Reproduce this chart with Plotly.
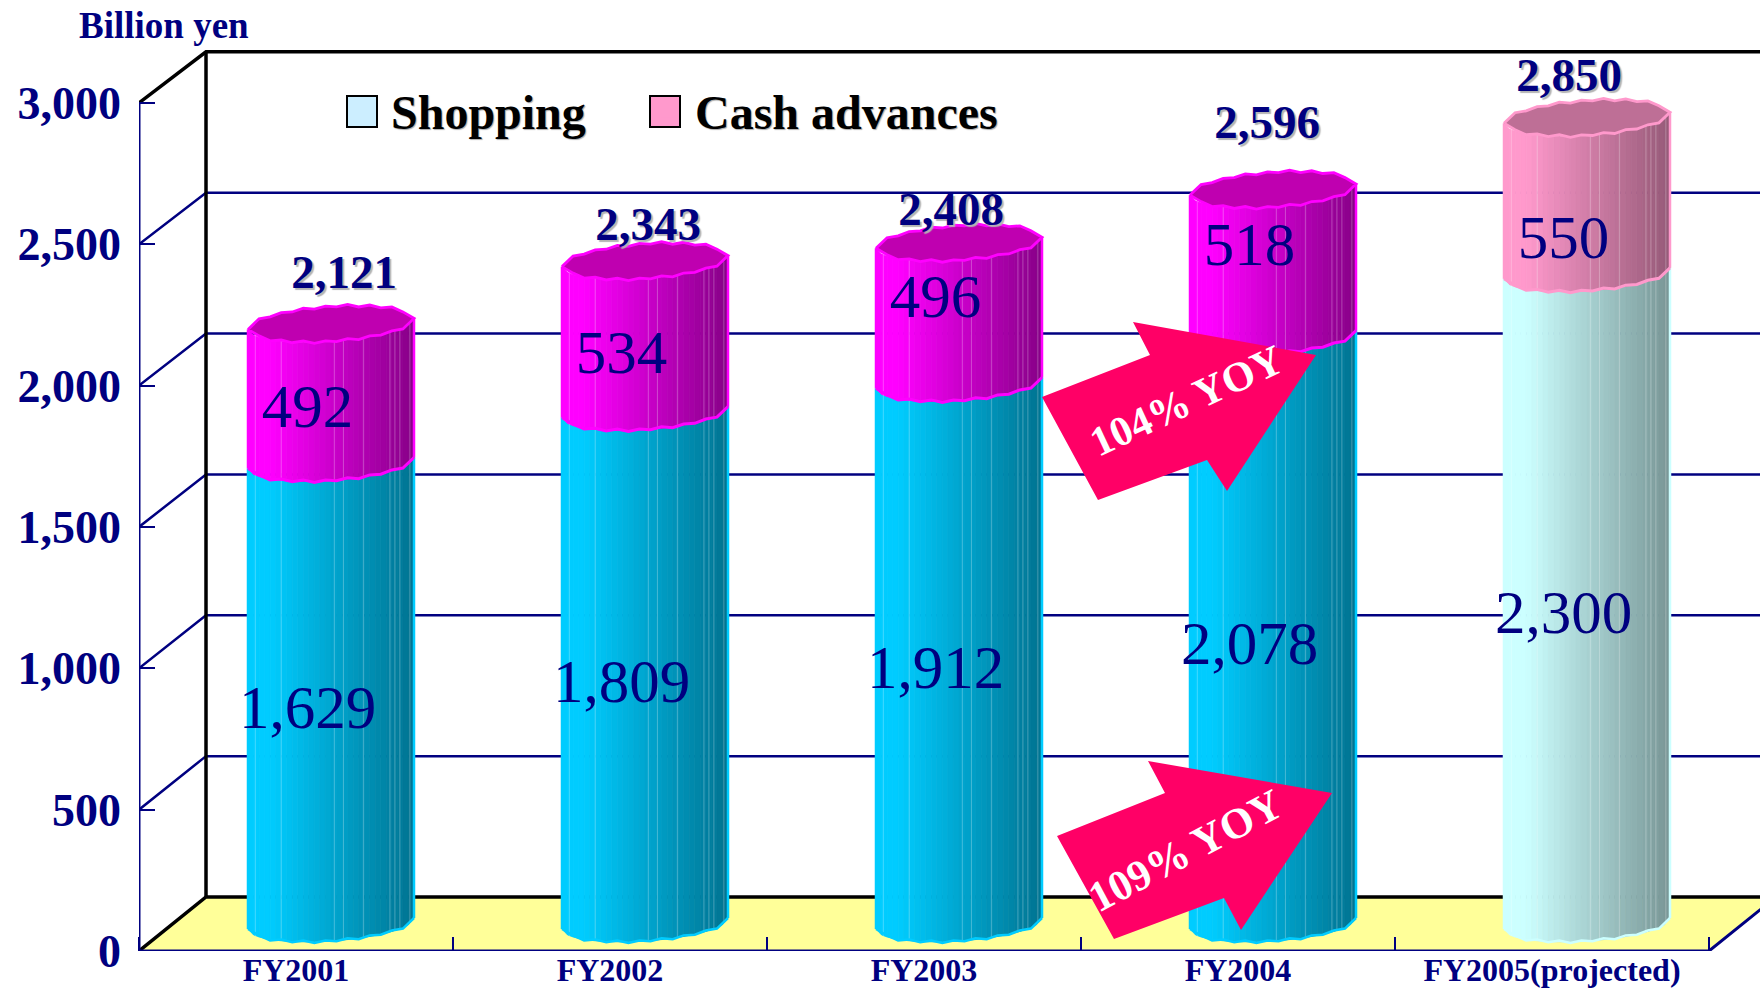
import plotly.graph_objects as go

# ---------- data ----------
categories = ["FY2001", "FY2002", "FY2003", "FY2004", "FY2005(projected)"]
shopping = [1629, 1809, 1912, 2078, 2300]
cash_advances = [492, 534, 496, 518, 550]
totals = [2121, 2343, 2408, 2596, 2850]
y_ticks = [0, 500, 1000, 1500, 2000, 2500, 3000]
y_tick_labels = ["0", "500", "1,000", "1,500", "2,000", "2,500", "3,000"]

# ---------- styling / layout constants ----------
W, H = 1760, 990
ML, MB = 139, 39
PX_X = 314.0          # px per category
PX_Y = 0.2827         # px per yen-unit
NAVY = "#000080"
SERIF = "Liberation Serif"
YMAX = (H - MB) / PX_Y
XMAX = (W - ML) / PX_X
DEPTH_X = 67 / PX_X
DEPTH_Y = 54 / PX_Y
BACK_SCALE = 0.9965
BAR_CX = (331 - ML) / PX_X
BAR_HW = 83 / PX_X
BAR_BASE = 27.5 / PX_Y
ELL_H = 17.5 / PX_Y
ELL_TILT = 5.5 / PX_Y

def px(x, y):
    return (x - ML) / PX_X, (H - MB - y) / PX_Y

fig = go.Figure()

def poly(xs, ys, fill, line=None, lw=0, name=None):
    fig.add_trace(go.Scatter(x=xs, y=ys, mode="lines", fill="toself", fillcolor=fill,
                             line=dict(color=line or fill, width=lw), hoverinfo="skip",
                             showlegend=False, name=name))

def lines(xs, ys, color, lw):
    fig.add_trace(go.Scatter(x=xs, y=ys, mode="lines", line=dict(color=color, width=lw),
                             hoverinfo="skip", showlegend=False))

# floor
poly([0, DEPTH_X, XMAX + 1, 5 + DEPTH_X, 5, 0], [0, DEPTH_Y, DEPTH_Y, DEPTH_Y, 0, 0], "#FFFF99")

# grid on the back wall with its diagonals
gx, gy = [], []
for v in y_ticks[1:-1]:
    gx += [0, DEPTH_X, XMAX, None]
    gy += [v, v * BACK_SCALE + DEPTH_Y, v * BACK_SCALE + DEPTH_Y, None]
lines(gx, gy, NAVY, 2.5)

# black wall frame
TOP_BACK = 3000 * BACK_SCALE + DEPTH_Y
lines([0, DEPTH_X, XMAX, None, 0, DEPTH_X, XMAX, None, DEPTH_X, DEPTH_X],
      [3000, TOP_BACK, TOP_BACK, None, 0, DEPTH_Y, DEPTH_Y, None, DEPTH_Y, TOP_BACK],
      "#000000", 3.5)

# front axes
lines([0, 0, None, 0, 5, 5 + DEPTH_X], [3000, 0, None, 0, 0, DEPTH_Y], NAVY, 3)

# ---------- cylinders ----------
N = 30
edges = [-1 + 2 * k / N for k in range(N + 1)]
highlights = [0.044, 0.2, 0.52, 0.575, 0.695, 0.855, 0.885, 0.915, 0.975]
cap_ripple = [0, 1.5, -1.0, 1.2, -0.8, 1.4, -1.2, 0.8, -0.6, 1.3, -1.0, 1.0, -0.5, 0.9, -1.1, 0]

def mix(a, b, t):
    return tuple(round(a[i] + (b[i] - a[i]) * t) for i in range(3))

def ramp(bright, dark, t):
    # flat highlight on the left, then a steady fall to the dark side
    s = 0 if t < 0.13 else (t - 0.13) / 0.87
    c = mix(bright, dark, s)
    return "rgb(%d,%d,%d)" % c

def front(u, level):
    return level + ELL_TILT * u - ELL_H * max(0, 1 - u * u) ** 0.5

def back(u, level):
    return level + ELL_TILT * u + ELL_H * max(0, 1 - u * u) ** 0.5

ramps = {
    "cyan": ((0, 204, 255), (0, 115, 145), "#00CCFF"),
    "magenta": ((255, 0, 255), (135, 0, 135), "#FF00FF"),
    "pale": ((204, 255, 255), (120, 150, 150), "#CCFFFF"),
    "pink": ((255, 153, 204), (150, 90, 120), "#FF99CC"),
}
def ramp_names(i):
    return ("pale", "pink") if i == 4 else ("cyan", "magenta")

for name in ramps:
    bright, dark, _ = ramps[name]
    for k in range(N):
        xs, ys = [], []
        for i in range(5):
            lower, upper = ramp_names(i)
            if name == lower:
                v0, v1 = 0, shopping[i]
            elif name == upper:
                v0, v1 = shopping[i], totals[i]
            else:
                continue
            u0, u1 = edges[k], edges[k + 1]
            c = i + BAR_CX
            a0, a1 = v0 + BAR_BASE, v1 + BAR_BASE
            xs += [c + u0 * BAR_HW, c + u1 * BAR_HW, c + u1 * BAR_HW, c + u0 * BAR_HW, c + u0 * BAR_HW, None]
            ys += [front(u0, a0), front(u1, a0), front(u1, a1), front(u0, a1), front(u0, a0), None]
        if xs:
            poly(xs, ys, ramp(bright, dark, (k + 0.5) / N), lw=0.8)

# thin facet highlights
hx, hy = [], []
for i in range(5):
    c = i + BAR_CX
    for f in highlights:
        u = 2 * f - 1
        hx += [c + u * BAR_HW, c + u * BAR_HW, None]
        hy += [front(u, BAR_BASE), front(u, totals[i] + BAR_BASE), None]
fig.add_trace(go.Scatter(x=hx, y=hy, mode="lines", line=dict(color="rgba(255,255,255,0.28)", width=1),
                         hoverinfo="skip", showlegend=False))

# edges, seams, caps
for i in range(5):
    lower, upper = ramp_names(i)
    c = i + BAR_CX
    us = [-1 + 2 * k / 15 for k in range(16)]
    lo_col, up_col = ramps[lower][2], ramps[upper][2]
    b = BAR_BASE
    s = shopping[i] + BAR_BASE
    t = totals[i] + BAR_BASE
    rip = [r / PX_Y for r in cap_ripple]
    # side edges
    lines([c - BAR_HW, c - BAR_HW], [front(-1, b), front(-1, s)], lo_col, 2.5)
    lines([c + BAR_HW, c + BAR_HW], [front(1, b), front(1, s)], lo_col, 2.5)
    lines([c - BAR_HW, c - BAR_HW], [front(-1, s), front(-1, t)], up_col, 2.5)
    lines([c + BAR_HW, c + BAR_HW], [front(1, s), front(1, t)], up_col, 2.5)
    # bottom and seam front edges
    lines([c + u * BAR_HW for u in us], [front(u, b) + r for u, r in zip(us, rip)], lo_col, 2.5)
    lines([c + u * BAR_HW for u in us], [front(u, s) + r for u, r in zip(us, rip)], up_col, 3)
    # cap
    cx_ = [c + u * BAR_HW for u in us] + [c + u * BAR_HW for u in reversed(us)]
    cy_ = [front(u, t) + r for u, r in zip(us, rip)] + [back(u, t) - r for u, r in zip(reversed(us), rip)]
    cap_fill = "#BE6F96" if i == 4 else "#BF00B0"
    poly(cx_ + cx_[:1], cy_ + cy_[:1], cap_fill, up_col, 2.8)

# ---------- value labels ----------
bar_label_dx = -23.5 / PX_X
cash_label_dy = [-66, -76, 38, 45, -168]
total_label_dx = [13 / PX_X, 3 / PX_X, -8 / PX_X, -6 / PX_X, -18 / PX_X]
total_label_dy = [47.5 / PX_Y, 32.5 / PX_Y, 29.5 / PX_Y, 63 / PX_Y, 38.5 / PX_Y]
xc = [i + BAR_CX for i in range(5)]

fig.add_trace(go.Scatter(
    x=[x + bar_label_dx for x in xc], y=[v / 2 + 30 for v in shopping],
    mode="text", text=[f"{v:,}" for v in shopping], textposition="middle center",
    textfont=dict(family=SERIF, size=61, color=NAVY), hoverinfo="skip", showlegend=False))
fig.add_trace(go.Scatter(
    x=[x + bar_label_dx for x in xc],
    y=[s + c / 2 + BAR_BASE + d for s, c, d in zip(shopping, cash_advances, cash_label_dy)],
    mode="text", text=[f"{v:,}" for v in cash_advances], textposition="middle center",
    textfont=dict(family=SERIF, size=61, color=NAVY), hoverinfo="skip", showlegend=False))
fig.add_trace(go.Scatter(
    x=[x + d for x, d in zip(xc, total_label_dx)],
    y=[t + BAR_BASE + d for t, d in zip(totals, total_label_dy)],
    mode="text", text=[f"{v:,}" for v in totals], textposition="middle center",
    textfont=dict(family=SERIF, size=47, color=NAVY, weight="bold", shadow="2px 2px 1px #B4B4B4"),
    hoverinfo="skip", showlegend=False))

# legend entries
for nm, col, lg in (("Shopping", "#CCEEFF", "legend"), ("Cash advances", "#FF99CC", "legend2")):
    fig.add_trace(go.Scatter(x=[None], y=[None], mode="markers", name=nm, legend=lg, showlegend=True,
                             marker=dict(symbol="square", size=14, color=col)))

# ---------- arrows ----------
arrow_pts = [
    [(1042, 397), (1150, 355), (1133, 322), (1316, 355), (1227, 491), (1207, 460), (1098, 500)],
    [(1057, 836), (1165, 793), (1148, 761), (1332, 793), (1241, 930), (1224, 898), (1114, 939)],
]
shapes = []
for pts in arrow_pts:
    d = "M" + " L".join("%.4f,%.2f" % px(*p) for p in pts) + " Z"
    shapes.append(dict(type="path", path=d, xref="x", yref="y", fillcolor="#FF0066",
                       line=dict(width=0), layer="above"))
# legend swatches (frames around the legend markers)
for x0, x1, col in ((347, 377, "#CCEEFF"), (650, 680, "#FF99CC")):
    a, b_ = px(x0, 127), px(x1, 96)
    shapes.append(dict(type="rect", xref="x", yref="y", x0=a[0], x1=b_[0], y0=a[1], y1=b_[1],
                       fillcolor=col, line=dict(color="#000000", width=2), layer="above"))

ann = []
for txt, (ax, ay), ang, fs in (("104% YOY", (1186, 401), -25, 42), ("109% YOY", (1185, 850), -28, 43)):
    x_, y_ = px(ax, ay)
    ann.append(dict(x=x_, y=y_, xref="x", yref="y", text=txt, showarrow=False, textangle=ang,
                    font=dict(family=SERIF, size=fs, color="#FFFFFF", weight="bold")))
x_, y_ = px(164, 25)
ann.append(dict(x=x_, y=y_, xref="x", yref="y", text="Billion yen", showarrow=False,
                font=dict(family=SERIF, size=37, color=NAVY, weight="bold")))

legend_font = dict(family=SERIF, size=48, color="#000000", weight="bold", shadow="1px 1px 1px #AAAAAA")
legend_base = dict(orientation="h", xref="paper", y=(H - MB - 73) / (H - MB), yanchor="top", xanchor="left",
                   bgcolor="rgba(0,0,0,0)", itemwidth=44, itemclick=False, itemdoubleclick=False,
                   font=legend_font)

fig.update_layout(
    width=W, height=H, paper_bgcolor="#FFFFFF", plot_bgcolor="#FFFFFF",
    margin=dict(l=ML, r=0, t=0, b=MB, autoexpand=False),
    shapes=shapes, annotations=ann,
    legend=dict(x=(337 - ML) / (W - ML), **legend_base),
    legend2=dict(x=(641 - ML) / (W - ML), **legend_base),
    xaxis=dict(range=[0, XMAX], tickmode="array", tickvals=[0.5 + i for i in range(5)],
               ticktext=categories, ticks="", showgrid=False, zeroline=False, showline=False,
               ticklabelstandoff=-3,
               tickfont=dict(family=SERIF, size=32, color=NAVY, weight="bold"),
               minor=dict(tickmode="array", tickvals=[0, 1, 2, 3, 4, 5], ticks="inside", ticklen=14,
                          tickwidth=2.4, tickcolor=NAVY, showgrid=False)),
    yaxis=dict(range=[0, YMAX], tickmode="array", tickvals=y_ticks, ticktext=y_tick_labels,
               ticks="inside", ticklen=16, tickwidth=2.4, tickcolor=NAVY, showgrid=False,
               zeroline=False, showline=False, ticklabelstandoff=17,
               tickfont=dict(family=SERIF, size=46, color=NAVY, weight="bold")),
)

fig.write_html("out.html", config=dict(displayModeBar=False),
               post_script="document.body.style.margin='0';document.body.style.overflow='hidden';")
